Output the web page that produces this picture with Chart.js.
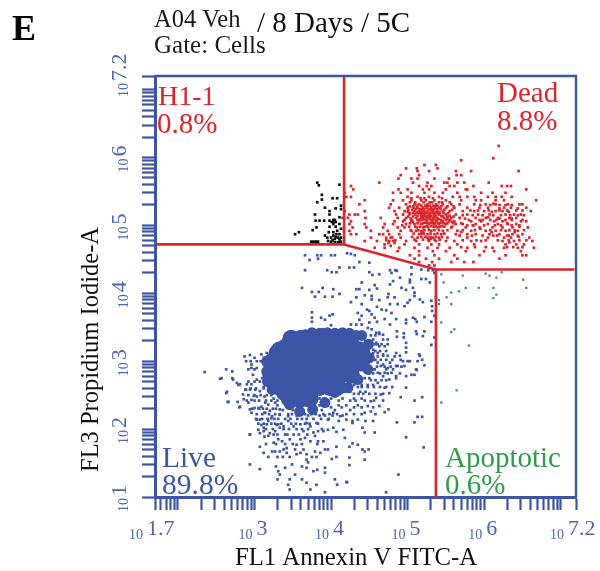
<!DOCTYPE html>
<html>
<head>
<meta charset="utf-8">
<script src="https://cdn.jsdelivr.net/npm/chart.js@4/dist/chart.umd.min.js"></script>
<style>html,body{margin:0;padding:0;background:#fff}canvas{display:block}</style>
</head>
<body>
<canvas id="c" width="600" height="571"></canvas>
<script>
// All event values are log10(signal), flat x,y,x,y...
const axisXMinExp = 1.7, axisXMaxExp = 7.2, axisYMinExp = 1, axisYMaxExp = 7.2;
const xLabelExps = ['1.7','3','4','5','6','7.2'];
const yLabelExps = ['1','2','3','4','5','6','7.2'];
const tickMultipliers = [1,2,3,4,5,6,7,8,9];
const xDecades = [2,3,4,5,6,7];
const yDecades = [1,2,3,4,5,6,7];

const gateUpperLeft = [1.7,4.72, 4.17,4.72, 4.17,7.19];
const gateDiagonal = [4.17,4.72, 5.37,4.35, 7.18,4.35];
const gateLower = [5.37,4.35, 5.37,1.0];

const apoptotic = [5.44,4.28,5.72,4.26,6.02,4.29,6.07,4.26,6.23,4.31,6.16,4.23,6.51,4.20,6.55,4.08,5.47,4.16,5.76,4.08,5.93,4.08,6.12,4.08,5.67,4.03,5.57,4.01,5.51,3.94,6.16,3.98,6.12,3.93,5.41,3.90,5.41,3.84,5.57,3.84,5.44,3.57,5.61,3.47,5.57,3.43,5.80,3.23,5.64,2.57,5.44,2.39];

const h1 = [3.82,5.63,3.84,5.59,4.11,5.60,3.88,5.45,3.88,5.38,3.82,5.34,4.02,5.40,4.08,5.40,3.92,5.26,3.98,5.21,4.06,5.25,4.13,5.29,4.13,5.24,3.98,5.16,3.79,5.16,4.11,5.12,3.80,5.07,3.85,5.07,3.91,5.07,3.98,5.07,4.03,5.08,4.06,5.05,4.03,5.02,3.81,4.97,3.76,4.93,3.98,4.98,4.06,4.98,4.11,5.02,4.13,4.95,3.58,4.90,3.53,4.87,3.97,4.90,4.03,4.90,4.08,4.92,4.11,4.87,3.92,4.85,3.95,4.82,4.00,4.82,4.05,4.80,4.11,4.80,3.74,4.76,3.79,4.76,3.83,4.76,3.96,4.77,4.00,4.76,4.05,4.75,4.09,4.75,4.13,4.76,4.13,4.82,4.09,4.82,4.03,4.85,4.07,4.87,3.76,4.76,3.81,4.76,4.02,4.78,4.03,5.05,4.01,5.05,4.05,5.08,4.06,4.83,4.11,4.76];

const dead = [6.19,6.17,6.12,5.99,5.70,5.96,5.22,5.89,5.37,5.89,5.12,5.84,5.39,5.84,4.98,5.84,5.13,5.80,5.28,5.80,5.63,5.80,5.83,5.80,6.45,5.80,4.91,5.74,5.15,5.74,5.64,5.74,5.70,5.74,4.88,5.69,5.05,5.69,5.13,5.69,5.35,5.69,5.54,5.69,4.63,5.63,5.07,5.63,5.26,5.63,5.48,5.63,5.52,5.63,5.65,5.63,5.74,5.63,6.06,5.63,
4.26,5.58,5.25,5.58,5.15,5.58,5.31,5.58,5.55,5.58,5.61,5.58,5.86,5.58,6.23,5.58,6.30,5.58,6.35,5.58,4.29,5.53,4.88,5.53,5.00,5.53,5.20,5.53,5.28,5.53,5.50,5.53,5.78,5.53,5.76,5.53,6.55,5.53,4.18,5.48,4.81,5.48,4.91,5.48,5.05,5.48,5.22,5.48,5.35,5.48,5.46,5.48,5.65,5.48,5.96,5.48,6.11,5.48,6.28,5.48,
4.20,5.42,4.26,5.42,5.00,5.42,5.13,5.42,5.28,5.42,5.41,5.42,5.59,5.42,5.68,5.42,5.78,5.42,5.87,5.42,6.05,5.42,6.15,5.42,6.23,5.42,6.36,5.42,4.44,5.37,4.81,5.37,4.94,5.37,5.05,5.37,5.18,5.37,5.24,5.37,5.35,5.37,5.50,5.37,5.70,5.37,5.89,5.37,5.96,5.37,6.15,5.37,6.26,5.37,6.68,5.37,
4.37,5.31,4.78,5.31,4.98,5.31,5.09,5.31,5.15,5.31,5.26,5.31,5.37,5.31,5.46,5.31,5.57,5.31,5.68,5.31,5.87,5.31,6.02,5.31,6.15,5.31,6.31,5.31,6.46,5.31,6.50,5.31,4.76,5.26,4.89,5.26,5.00,5.26,5.08,5.26,5.13,5.26,5.20,5.26,5.25,5.26,5.31,5.26,5.36,5.26,5.41,5.26,5.50,5.26,5.61,5.26,5.78,5.26,5.94,5.26,6.05,5.26,6.26,5.26,6.35,5.26,6.55,5.26,
4.18,5.21,4.44,5.21,4.83,5.21,4.96,5.21,5.09,5.21,5.15,5.21,5.21,5.21,5.26,5.21,5.33,5.21,5.39,5.21,5.46,5.21,5.55,5.21,5.72,5.21,5.87,5.21,6.00,5.21,6.15,5.21,6.24,5.21,6.61,5.21,4.24,5.16,4.31,5.16,4.35,5.16,4.85,5.16,4.94,5.16,5.02,5.16,5.10,5.16,5.18,5.16,5.23,5.16,5.29,5.16,5.35,5.16,5.41,5.16,5.50,5.16,5.63,5.16,5.78,5.16,6.07,5.16,6.28,5.16,6.39,5.16,6.48,5.16,
4.15,5.11,4.22,5.11,4.45,5.11,4.65,5.11,4.87,5.11,4.98,5.11,5.11,5.11,5.20,5.11,5.26,5.11,5.33,5.11,5.39,5.11,5.48,5.11,5.57,5.11,5.68,5.11,5.89,5.11,6.02,5.11,6.18,5.11,6.33,5.11,6.42,5.11,4.26,5.06,4.83,5.06,4.94,5.06,5.05,5.06,5.15,5.06,5.25,5.06,5.32,5.06,5.38,5.06,5.46,5.06,5.54,5.06,5.61,5.06,5.83,5.06,5.96,5.06,6.13,5.06,6.24,5.06,6.48,5.06,6.55,5.06,
4.24,5.02,4.44,5.02,4.70,5.02,4.81,5.02,4.98,5.02,5.09,5.02,5.18,5.02,5.28,5.02,5.35,5.02,5.41,5.02,5.50,5.02,5.63,5.02,5.72,5.02,5.89,5.02,6.05,5.02,6.18,5.02,6.31,5.02,6.42,5.02,4.28,4.97,4.46,4.97,4.68,4.97,4.87,4.97,4.96,4.97,5.12,4.97,5.20,4.97,5.27,4.97,5.39,4.97,5.57,4.97,5.76,4.97,5.94,4.97,6.11,4.97,6.24,4.97,6.37,4.97,6.57,4.97,
4.24,4.92,4.52,4.92,4.74,4.92,4.91,4.92,5.11,4.92,5.18,4.92,5.31,4.92,5.46,4.92,5.65,4.92,5.83,4.92,6.02,4.92,6.15,4.92,6.28,4.92,6.44,4.92,4.26,4.87,4.33,4.87,4.63,4.87,4.76,4.87,4.89,4.87,5.15,4.87,5.26,4.87,5.35,4.87,5.44,4.87,5.63,4.87,5.78,4.87,5.89,4.87,6.07,4.87,6.20,4.87,6.37,4.87,6.50,4.87,
4.52,4.82,4.72,4.82,4.78,4.82,4.91,4.82,5.13,4.82,5.26,4.82,5.33,4.82,5.41,4.82,5.52,4.82,5.78,4.82,6.05,4.82,6.26,4.82,6.35,4.82,6.59,4.82,4.44,4.77,4.60,4.77,4.76,4.77,4.81,4.77,4.98,4.77,5.11,4.77,5.28,4.77,5.37,4.77,5.50,4.77,5.61,4.77,5.83,4.77,5.96,4.77,6.24,4.77,6.39,4.77,6.63,4.77,
4.70,4.72,4.96,4.72,5.15,4.72,5.31,4.72,5.41,4.72,5.65,4.72,5.87,4.72,6.28,4.72,6.42,4.72,4.57,4.67,4.70,4.67,4.89,4.67,5.09,4.67,5.26,4.67,5.39,4.67,5.55,4.67,5.78,4.67,6.11,4.67,6.26,4.67,6.44,4.67,6.65,4.67,4.87,4.62,5.15,4.62,5.33,4.62,5.50,4.62,5.76,4.62,6.00,4.62,6.13,4.62,6.48,4.62,
5.03,4.56,5.15,4.56,5.35,4.56,5.61,4.56,5.94,4.56,6.28,4.56,6.50,4.56,6.55,4.56,5.09,4.51,5.24,4.51,5.41,4.51,5.65,4.51,6.20,4.51,5.15,4.46,5.32,4.46,5.57,4.46,5.74,4.46,5.86,4.46,5.28,4.41,5.35,4.41];

const deadDense = [5.12,5.29,5.18,5.29,5.23,5.29,5.29,5.29,5.33,5.29,5.39,5.29,5.11,5.24,5.16,5.24,5.22,5.24,5.28,5.24,5.34,5.24,5.38,5.24,5.43,5.24,5.12,5.19,5.18,5.19,5.24,5.19,5.30,5.19,5.36,5.19,5.42,5.19,5.13,5.14,5.21,5.14,5.27,5.14,5.31,5.14,5.37,5.14,5.44,5.14,5.16,5.09,5.22,5.09,5.29,5.09,5.35,5.09,5.41,5.09,5.23,5.04,5.30,5.04,5.36,5.04,5.43,5.04,5.25,4.99,5.31,4.99,5.37,4.99,5.45,4.99,5.52,5.10,5.55,5.14,5.58,5.05,5.04,5.10,5.00,5.20,5.07,5.05,5.75,5.10,5.92,5.16,5.98,5.08,6.10,5.20,6.20,5.10,6.30,5.03,6.36,5.10,6.40,4.90,6.46,4.98,6.17,4.85,6.10,4.90,5.95,4.95,6.12,5.32,6.20,5.25,6.32,5.20,6.44,5.25,6.05,5.12,5.85,5.00,5.70,5.03,5.70,4.90,5.30,4.80,5.20,4.90,5.05,4.92,4.93,5.00,4.80,4.82,4.84,4.78,4.68,4.87,6.32,4.85,6.33,4.75,6.45,4.83,6.52,4.72];

const deadExtra = [5.05,5.40,5.17,5.40,5.22,5.40,5.33,5.40,5.45,5.40,5.03,5.34,5.10,5.34,5.21,5.34,5.29,5.34,5.32,5.34,5.41,5.34,5.45,5.34,5.55,5.34,5.03,5.28,5.07,5.28,5.26,5.28,5.36,5.28,5.44,5.28,5.52,5.28,5.60,5.28,5.01,5.23,5.06,5.23,5.19,5.23,5.31,5.23,5.48,5.23,5.58,5.23,5.03,5.18,5.07,5.18,5.15,5.18,5.21,5.18,5.27,5.18,5.33,5.18,5.39,5.18,5.47,5.18,5.53,5.18,5.01,5.13,5.07,5.13,5.18,5.13,5.24,5.13,5.29,5.13,5.35,5.13,5.46,5.13,5.52,5.13,5.60,5.13,4.96,5.08,5.06,5.08,5.13,5.08,5.19,5.08,5.25,5.08,5.32,5.08,5.38,5.08,5.44,5.08,5.50,5.08,5.55,5.08,5.03,5.03,5.13,5.03,5.20,5.03,5.26,5.03,5.33,5.03,5.40,5.03,5.47,5.03,5.52,5.03,5.60,5.03,5.02,4.98,5.10,4.98,5.16,4.98,5.22,4.98,5.34,4.98,5.42,4.98,5.48,4.98,5.58,4.98,5.04,4.93,5.14,4.93,5.22,4.93,5.28,4.93,5.35,4.93,5.41,4.93,5.52,4.93,5.08,4.88,5.18,4.88,5.21,4.88,5.30,4.88,5.39,4.88,5.48,4.88,5.06,4.83,5.18,4.83,5.23,4.83,5.30,4.83,5.37,4.83,5.45,4.83,5.09,4.79,5.20,4.79,5.27,4.79,5.35,4.79,5.42,4.79,
5.95,5.30,6.08,5.30,6.20,5.30,6.28,5.30,6.36,5.30,5.82,5.22,5.92,5.22,6.06,5.22,6.20,5.22,6.30,5.22,6.42,5.22,6.50,5.22,5.72,5.15,5.85,5.15,5.98,5.15,6.12,5.15,6.22,5.15,6.34,5.15,6.44,5.15,6.52,5.15,5.80,5.08,5.94,5.08,6.08,5.08,6.16,5.08,6.28,5.08,6.36,5.08,6.50,5.08,5.78,5.00,5.86,5.00,6.00,5.00,6.14,5.00,6.22,5.00,6.36,5.00,6.46,5.00,5.72,4.93,5.88,4.93,6.08,4.93,6.22,4.93,6.33,4.93,6.40,4.93,6.52,4.93,5.68,4.85,5.84,4.85,5.98,4.85,6.12,4.85,6.30,4.85,6.44,4.85,5.72,4.78,5.90,4.78,6.02,4.78,6.18,4.78,6.32,4.78,6.46,4.78,6.55,4.78,5.70,4.68,5.88,4.68,6.02,4.68,6.30,4.68,6.38,4.68,6.50,4.68,4.72,4.78,4.75,4.74,4.78,4.70,4.83,4.74];

const liveCore = [3.48,3.33,3.61,3.33,3.74,3.33,3.87,3.33,4.0,3.33,4.13,3.33,4.25,3.33,
3.33,3.16,3.46,3.16,3.59,3.16,3.72,3.16,3.85,3.16,3.98,3.16,4.11,3.16,4.24,3.16,4.37,3.16,
3.22,2.98,3.35,2.98,3.48,2.98,3.61,2.98,3.74,2.98,3.87,2.98,4.0,2.98,4.13,2.98,4.26,2.98,4.39,2.98,
3.22,2.80,3.35,2.80,3.48,2.80,3.61,2.80,3.74,2.80,3.87,2.80,4.0,2.80,4.13,2.80,4.26,2.80,
3.33,2.62,3.46,2.62,3.59,2.62,3.72,2.62,3.85,2.62,3.98,2.62,4.08,2.62,
3.46,2.45,3.59,2.45,3.72,2.45];

const liveEdge = [3.16,2.99,3.16,2.85,3.17,2.70,3.26,3.14,3.39,3.25,3.53,3.35,3.66,3.39,3.85,3.41,4.05,3.41,4.24,3.41,4.40,3.38,4.49,3.25,4.50,3.05,4.48,2.88,4.35,2.73,4.22,2.61,4.05,2.54,3.92,2.39,3.76,2.29,3.59,2.26,3.46,2.36,3.36,2.51,3.23,2.58,3.75,3.42,3.95,3.42,4.15,3.42,4.33,3.38,4.44,3.15];

const liveSparse = [3.66,4.56,3.72,4.49,3.82,4.56,3.87,4.56,3.83,4.51,4.00,4.56,4.05,4.56,4.21,4.59,4.26,4.58,4.31,4.56,4.37,4.46,4.50,4.45,3.66,4.34,3.95,4.34,4.01,4.31,4.07,4.31,4.11,4.38,4.24,4.38,4.30,4.38,4.50,4.31,4.54,4.27,4.63,4.28,4.77,4.34,4.79,4.30,4.84,4.34,4.86,4.33,4.90,4.23,4.81,4.18,4.77,4.13,5.05,4.38,5.18,4.35,5.27,4.34,5.33,4.34,5.35,4.30,5.05,4.28,5.18,4.21,5.24,4.21,5.29,4.16,5.03,4.20,5.03,4.16,4.92,4.08,4.98,4.05,5.07,4.08,5.09,4.01,3.62,4.08,3.75,4.02,3.84,4.02,3.89,4.08,3.79,3.95,3.92,3.95,4.03,4.06,4.02,3.95,4.11,3.99,4.26,3.87,4.33,4.06,4.37,4.06,4.40,4.16,4.50,4.05,4.57,4.12,4.60,4.07,4.44,3.97,4.33,3.94,4.53,3.96,4.53,3.91,4.63,3.90,4.75,3.99,4.74,3.94,4.83,3.94,4.77,3.84,4.87,3.84,4.96,3.81,5.00,3.86,5.03,3.90,5.09,3.96,5.16,3.91,5.20,3.87,5.31,3.89,5.32,3.81,5.32,3.74,5.37,3.94,4.40,3.84,4.47,3.76,4.50,3.74,4.53,3.69,4.35,3.71,4.40,3.67,4.37,3.61,4.60,3.80,4.66,3.76,4.72,3.75,4.79,3.71,4.85,3.62,4.70,3.62,4.77,3.54,4.57,3.64,4.60,3.58,4.50,3.57,4.98,3.61,4.98,3.56,5.07,3.64,5.10,3.62,5.12,3.58,5.22,3.65,5.31,3.58,5.35,3.67,5.11,3.44,5.12,3.40,5.22,3.44,5.20,3.37,5.35,3.35,5.31,3.24,4.95,3.41,4.95,3.35,4.98,3.27,4.98,3.20,4.98,3.13,4.86,3.44,4.86,3.36,3.75,3.72,3.75,3.64,3.75,3.58,3.87,3.64,3.92,3.61,3.98,3.67,4.02,3.69,4.00,3.53,3.89,3.47,
4.26,3.54,4.33,3.54,4.40,3.54,4.26,3.32,4.48,3.49,4.53,3.47,4.59,3.42,4.63,3.40,4.68,3.32,4.74,3.32,4.74,3.25,4.61,3.25,4.55,3.17,4.61,3.12,4.68,3.08,4.74,3.08,4.85,3.12,4.90,3.08,4.94,3.00,5.03,3.00,5.13,3.00,5.16,3.08,4.77,2.98,4.85,2.93,4.96,2.93,5.11,2.88,4.68,2.95,4.74,2.90,4.50,3.08,4.55,3.03,4.61,2.98,4.48,2.95,4.55,2.88,4.61,2.83,4.70,2.83,4.79,2.83,4.85,2.78,4.98,2.78,
4.63,3.42,4.68,3.39,4.55,3.32,4.59,3.27,4.63,3.22,4.70,3.22,4.55,3.12,4.61,3.07,4.68,3.10,4.83,3.07,4.91,3.02,5.00,3.00,5.15,3.10,5.19,3.02,5.22,2.94,5.05,2.80,5.09,2.80,5.12,2.87,4.87,2.93,4.81,2.88,4.72,2.88,4.65,2.93,4.57,2.88,4.68,2.78,4.76,2.73,4.85,2.75,4.61,2.68,4.70,2.61,4.76,2.53,4.65,2.51,4.59,2.46,4.52,2.41,4.63,2.34,4.75,2.29,4.70,2.25,4.52,2.26,4.48,2.34,4.44,2.24,4.98,2.61,4.91,2.47,5.09,2.42,5.19,2.47,4.86,2.10,5.09,2.10,5.13,2.18,5.19,2.18,4.98,1.88,5.21,1.73,4.88,1.33,4.72,1.07,4.21,1.22,4.44,1.55,4.24,1.58,4.24,1.47,4.41,1.70,4.44,1.67,4.49,1.70,4.57,1.95,4.44,1.95,4.41,2.02,4.28,2.09,4.35,2.14,4.20,2.14,4.18,1.87,4.28,1.79,4.35,1.77,4.24,1.74,
2.55,2.74,2.72,2.73,2.77,2.68,2.81,2.66,2.88,2.58,2.64,2.55,2.65,2.40,2.78,2.40,2.81,2.33,2.94,1.92,3.07,1.74,2.94,1.48,3.07,1.41,2.86,2.44,2.92,2.39,2.96,2.24,3.03,2.22,3.07,2.14,3.05,1.99,3.12,1.97,3.18,1.90,3.27,1.97,3.33,2.02,3.31,1.85,3.36,1.82,3.42,1.72,3.23,1.67,3.27,1.67,3.33,1.67,3.38,1.70,3.18,1.59,3.30,1.59,3.37,1.59,3.46,1.59,3.53,1.70,3.55,1.63,3.64,1.70,3.68,1.63,3.75,1.59,3.81,1.59,3.68,1.55,3.70,1.51,3.62,1.45,3.68,1.43,3.77,1.38,3.82,1.40,3.92,1.43,3.92,1.36,3.28,1.45,3.31,1.38,3.33,1.33,3.40,1.43,3.53,1.33,3.30,1.26,3.44,1.18,3.46,1.26,3.62,1.26,3.68,1.21,3.81,1.18,3.46,1.11,3.73,1.11,3.92,1.07,4.05,1.26,4.08,1.18,4.20,1.22,
4.07,1.74,4.01,1.56,4.07,1.59,3.92,1.70,3.96,1.70,3.83,1.82,3.90,1.82,3.79,1.67,3.60,1.85,3.66,1.87,3.73,1.82,3.46,1.85,3.55,1.77,3.77,1.95,3.83,1.97,3.90,1.97,3.96,1.99,4.03,2.02,4.07,1.96,4.16,1.99,3.31,2.07,3.38,2.04,3.44,2.12,3.51,2.04,3.60,2.07,3.68,2.09,3.16,2.07,3.23,2.19,3.14,2.24,3.05,2.31,2.99,2.49,2.94,2.58,2.90,2.66,3.20,2.27,3.27,2.39,3.14,2.39,3.01,2.58,3.12,2.02,3.18,2.12,2.94,2.29,3.25,1.80,3.40,1.92,3.51,1.92,3.64,1.97,3.73,2.04,3.81,2.09,3.96,2.14,4.03,2.24,4.12,2.19,3.79,1.90,3.49,1.48,
2.87,3.07,2.94,3.09,3.00,3.05,2.89,3.00,2.96,2.95,2.92,2.88,3.00,2.88,2.98,2.80,3.03,2.73,2.96,2.66,2.89,2.58,2.85,2.51,2.96,2.43,3.03,2.48,3.07,2.56,3.13,2.48,3.00,2.31,3.09,2.33,3.18,2.36,3.13,2.24,3.22,2.16,3.29,2.06,3.33,2.21,3.03,2.14,3.09,2.06,2.94,1.92,3.07,1.94,3.13,1.89,3.20,1.94,3.33,2.29,3.44,2.19,2.35,2.84,2.63,2.88,2.71,2.85,2.57,2.75,2.71,2.75,2.79,2.65,2.63,2.53,2.66,2.40,2.80,2.32,3.33,3.25,3.24,3.20,3.46,3.42,3.16,3.12,3.09,3.10,3.40,3.29,
3.25,2.45,3.35,2.45,3.60,2.30,3.75,2.32,3.90,2.45,4.00,2.45,4.15,2.45,4.30,2.45,4.40,2.45,3.30,2.35,3.42,2.35,3.55,2.35,3.65,2.35,3.85,2.35,3.95,2.35,4.10,2.35,4.20,2.35,4.35,2.35,3.37,2.28,3.50,2.28,3.62,2.28,3.78,2.28,3.88,2.28,4.05,2.28,4.25,2.28,3.55,2.20,3.70,2.20,3.85,2.20,3.92,2.20,4.02,2.20,4.15,2.20,3.20,2.55,3.27,2.55,3.85,2.45,4.05,2.52,4.18,2.55,4.25,2.55,4.38,2.55,4.45,2.55,4.20,2.65,4.30,2.65,4.40,2.65,4.48,2.65,4.55,2.65,4.40,2.75,4.50,2.75,3.12,2.62,3.10,2.75,3.14,2.85,3.12,3.05,3.20,3.12,4.45,3.30,4.50,3.20,4.47,3.10,4.52,3.00,4.50,2.82,4.44,2.75,4.35,2.62];

const liveFringe = [3.10,2.22,3.19,2.22,3.27,2.22,3.33,2.22,3.44,2.22,3.49,2.22,3.58,2.22,3.66,2.22,3.74,2.22,3.80,2.22,3.90,2.22,3.98,2.22,4.08,2.22,3.02,2.15,3.10,2.15,3.17,2.15,3.26,2.15,3.31,2.15,3.40,2.15,3.47,2.15,3.56,2.15,3.62,2.15,3.68,2.15,3.77,2.15,3.87,2.15,3.97,2.15,3.05,2.08,3.12,2.08,3.22,2.08,3.27,2.08,3.35,2.08,3.48,2.08,3.54,2.08,3.66,2.08,3.72,2.08,3.83,2.08,3.15,2.00,3.24,2.00,3.38,2.00,3.45,2.00,3.55,2.00,3.62,2.00,3.70,2.00,3.88,2.00,3.25,1.92,3.30,1.92,3.43,1.92,3.58,1.92,3.69,1.92,3.15,1.78,3.28,1.78,3.40,1.78,3.50,1.78,3.62,1.78,3.82,1.78,3.12,1.65,3.42,1.65,3.60,1.65,3.86,1.65,
2.95,2.60,3.02,2.60,3.12,2.60,3.18,2.60,2.92,2.50,3.00,2.50,3.08,2.50,3.16,2.50,3.22,2.50,2.90,2.42,3.00,2.42,3.06,2.42,3.15,2.42,3.22,2.42,3.30,2.42,2.97,2.30,3.06,2.30,3.11,2.30,3.16,2.30,3.24,2.30,3.28,2.30,2.92,2.70,3.00,2.70,3.07,2.70,2.96,2.90,3.03,2.90,2.95,3.00,3.03,3.00,3.08,3.00,
4.52,3.38,4.58,3.38,4.58,3.25,4.66,3.25,4.58,3.15,4.64,3.15,4.72,3.15,4.58,3.02,4.65,3.02,4.72,3.02,4.80,3.02,4.60,2.92,4.70,2.92,4.78,2.92,4.92,2.92,4.55,2.82,4.64,2.82,4.74,2.82,4.90,2.82,4.52,2.72,4.58,2.72,4.66,2.72,4.72,2.72,4.40,2.62,4.48,2.62,4.56,2.62,4.64,2.62,4.72,2.62,4.80,2.62,4.30,2.52,4.36,2.52,4.42,2.52,4.50,2.52,4.58,2.52,4.68,2.52,4.10,2.42,4.25,2.42,4.32,2.42,4.44,2.42,4.56,2.42,4.68,2.42,4.00,2.32,4.14,2.32,4.30,2.32,4.40,2.32,4.55,2.32,4.20,2.22,4.30,2.22,4.40,2.22,4.58,2.22,4.10,2.12,4.28,2.12,4.45,2.12,4.55,2.12];

const BLUE = '#3c55a5', RED = '#dc242c', GREEN = '#2f9a4b', TICK_BLUE = '#4c66ad';

function toPoints(flat){
  const pts = [];
  for (let i = 0; i < flat.length; i += 2) pts.push({x: Math.pow(10, flat[i]), y: Math.pow(10, flat[i+1])});
  return pts;
}
function tickValues(decades, lo, hi){
  const vals = [Math.pow(10, lo), Math.pow(10, hi)];
  const first = Math.min(...decades) - 1;
  for (let d = first; d <= Math.max(...decades); d++) {
    for (const m of tickMultipliers) {
      const v = m * Math.pow(10, d);
      if (v > Math.pow(10, lo) * 1.001 && v < Math.pow(10, hi) * 0.999) vals.push(v);
    }
  }
  return vals.sort((a, b) => a - b).map(v => ({value: v}));
}
const marks = (label, flat, color, r) => ({label, data: toPoints(flat), backgroundColor: color, borderWidth: 0, pointStyle: 'rect', pointRadius: r, pointHoverRadius: r, showLine: false, order: 5});
const coreMark = (label, flat, color, r) => ({label, data: toPoints(flat), backgroundColor: color, borderWidth: 0, pointStyle: 'circle', pointRadius: r, pointHoverRadius: r, showLine: false, order: 5});
const gate = (label, flat) => ({label, data: toPoints(flat), borderColor: RED, borderWidth: 2.6, pointRadius: 0, showLine: true, fill: false, order: 1, clip: false});

function txt(ctx, s, x, y, font, color){
  ctx.font = font; ctx.fillStyle = color; ctx.textAlign = 'left'; ctx.textBaseline = 'alphabetic';
  ctx.fillText(s, x, y);
}
const SERIF = '"Liberation Serif", serif';
const annotate = {
  id: 'annotate',
  beforeDatasetsDraw(chart){
    const {ctx, chartArea: a} = chart;
    ctx.save();
    ctx.strokeStyle = BLUE; ctx.lineWidth = 2.4;
    ctx.beginPath(); ctx.moveTo(a.left, a.top); ctx.lineTo(a.right, a.top); ctx.lineTo(a.right, a.bottom); ctx.stroke();
    ctx.restore();
  },
  afterDraw(chart){
    const {ctx, scales} = chart;
    ctx.save();
    txt(ctx, 'E', 12, 40, `bold 36px ${SERIF}`, '#000');
    txt(ctx, 'A04 Veh', 154, 27, `24.5px ${SERIF}`, '#1a1a1a');
    txt(ctx, '/ 8 Days / 5C', 257, 32, `29px ${SERIF}`, '#111');
    txt(ctx, 'Gate: Cells', 154, 53, `25px ${SERIF}`, '#1a1a1a');
    txt(ctx, 'H1-1', 158, 105, `28px ${SERIF}`, RED);
    txt(ctx, '0.8%', 157, 133, `29px ${SERIF}`, RED);
    txt(ctx, 'Dead', 497, 102, `29px ${SERIF}`, RED);
    txt(ctx, '8.8%', 497, 130, `29px ${SERIF}`, RED);
    txt(ctx, 'Live', 162, 467, `29.5px ${SERIF}`, BLUE);
    txt(ctx, '89.8%', 162, 494, `29.5px ${SERIF}`, BLUE);
    txt(ctx, 'Apoptotic', 445, 467, `29px ${SERIF}`, GREEN);
    txt(ctx, '0.6%', 445, 494, `29px ${SERIF}`, GREEN);
    txt(ctx, 'FL1 Annexin V FITC-A', 235, 565, `24.7px ${SERIF}`, '#111');
    ctx.save();
    ctx.translate(98, 472); ctx.rotate(-Math.PI / 2);
    txt(ctx, 'FL3 Propidium Iodide-A', 0, 0, `24.5px ${SERIF}`, '#111');
    ctx.restore();
    for (const e of xLabelExps) {
      const p = scales.x.getPixelForValue(Math.pow(10, parseFloat(e)));
      const shift = e.length > 1 ? -10 : 0;
      ctx.font = `14px ${SERIF}`;
      const w = ctx.measureText('10').width;
      txt(ctx, '10', p + shift - 2 - w, 539, `14px ${SERIF}`, TICK_BLUE);
      txt(ctx, e, p + shift + 2, 535, `22px ${SERIF}`, TICK_BLUE);
    }
    for (const e of yLabelExps) {
      const p = scales.y.getPixelForValue(Math.pow(10, parseFloat(e)));
      const shift = e.length > 1 ? 6 : 0;
      ctx.save();
      ctx.translate(128, p + shift + 15); ctx.rotate(-Math.PI / 2);
      txt(ctx, '10', 0, 0, `14px ${SERIF}`, TICK_BLUE);
      txt(ctx, e, 16, -2, `22px ${SERIF}`, TICK_BLUE);
      ctx.restore();
    }
    ctx.restore();
  }
};
const axis = (min, max, decades, lo, hi, fit) => ({
  type: 'logarithmic', min, max,
  border: {display: true, color: BLUE, width: 3},
  grid: {display: true, drawOnChartArea: false, drawTicks: true, tickLength: 13, tickWidth: 2.2, tickColor: BLUE, color: BLUE},
  ticks: {display: false, autoSkip: false},
  afterBuildTicks(s){ s.ticks = tickValues(decades, lo, hi); },
  afterFit: fit
});
new Chart(document.getElementById('c'), {
  type: 'scatter',
  data: {datasets: [
    coreMark('Live core', liveCore, BLUE, 9),
    coreMark('Live edge', liveEdge, BLUE, 5.5),
    marks('Live', liveSparse, BLUE, 1.9),
    marks('Live fringe', liveFringe, BLUE, 1.9),
    marks('H1-1', h1, '#111', 1.9),
    marks('Dead', dead, RED, 1.9),
    marks('Dead core', deadDense, RED, 1.9),
    marks('Dead extra', deadExtra, RED, 1.9),
    marks('Apoptotic', apoptotic, GREEN, 1.6),
    gate('Gate upper left', gateUpperLeft),
    gate('Gate diagonal', gateDiagonal),
    gate('Gate lower', gateLower)
  ]},
  options: {
    responsive: false, animation: false,
    layout: {padding: {top: 76, right: 24, left: 0, bottom: 0}},
    plugins: {legend: {display: false}, tooltip: {enabled: false}, title: {display: false}},
    scales: {
      x: axis(Math.pow(10, axisXMinExp), Math.pow(10, axisXMaxExp), xDecades, axisXMinExp, axisXMaxExp, s => { s.height = 74; }),
      y: axis(Math.pow(10, axisYMinExp), Math.pow(10, axisYMaxExp), yDecades, axisYMinExp, axisYMaxExp, s => { s.width = 155; })
    }
  },
  plugins: [annotate]
});
</script>
</body>
</html>
